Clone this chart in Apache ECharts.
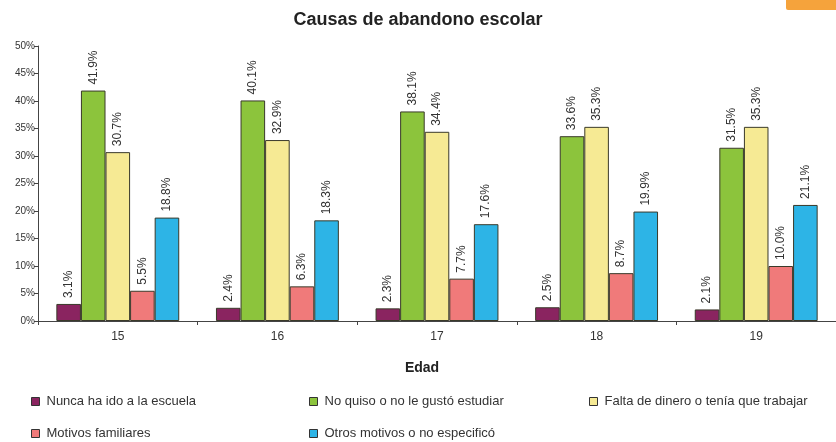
<!DOCTYPE html>
<html><head><meta charset="utf-8">
<script src="https://cdn.jsdelivr.net/npm/echarts@6/dist/echarts.min.js"></script>
<style>html,body{margin:0;padding:0;background:#fff}#c{width:836px;height:442px}</style>
</head><body><div id="c"></div>
<script>
var categories = ['15','16','17','18','19'];
var seriesNames = ['Nunca ha ido a la escuela','No quiso o no le gustó estudiar','Falta de dinero o tenía que trabajar','Motivos familiares','Otros motivos o no especificó'];
var nunca = [3.1, 2.4, 2.3, 2.5, 2.1];
var noQuiso = [41.9, 40.1, 38.1, 33.6, 31.5];
var falta = [30.7, 32.9, 34.4, 35.3, 35.3];
var motivos = [5.5, 6.3, 7.7, 8.7, 10.0];
var otros = [18.8, 18.3, 17.6, 19.9, 21.1];

var colors = ['#8a2460','#8cc43c','#f6ea94','#f07a7a','#2db4e6'];
var values = [nunca, noQuiso, falta, motivos, otros];
var font = 'Liberation Sans, Arial, sans-serif';

var series = values.map(function(v,i){
  return {
    name: seriesNames[i], type:'bar', data:v,
    barGap:'0%', barCategoryGap:'23%',
    itemStyle:{color:colors[i], borderColor:'#3a3a2a', borderWidth:1},
    label:{show:true, position:'top', rotate:90, align:'left', verticalAlign:'middle', distance:6,
      formatter:function(p){return p.value.toFixed(1)+'%';},
      fontSize:12, color:'#333', fontFamily:font}
  };
});

var legendPos = [[26,392],[304,392],[584,392],[26,424],[304,424]];
var legends = seriesNames.map(function(n,i){
  return {orient:'horizontal', left:legendPos[i][0], top:legendPos[i][1], data:[n],
    itemWidth:8, itemHeight:8, icon:'rect', padding:[3,5,3,5],
    itemStyle:{borderColor:'#333', borderWidth:1},
    textStyle:{fontSize:13, color:'#333', fontFamily:font, padding:[0,0,0,2]}};
});

var chart = echarts.init(document.getElementById('c'));
chart.setOption({
  animation:false,
  color:colors,
  title:{text:'Causas de abandono escolar', left:'center', top:6,
    textStyle:{fontSize:18, fontWeight:'bold', color:'#222', fontFamily:font}},
  legend:legends,
  grid:{left:38, top:46, width:805, bottom:121, containLabel:false},
  xAxis:{type:'category', data:categories, name:'Edad', nameLocation:'middle', nameGap:40,
    nameTextStyle:{fontSize:14, fontWeight:'bold', color:'#222', fontFamily:font, padding:[0,0,0,-30]},
    axisLine:{lineStyle:{color:'#444'}}, axisTick:{show:true, length:4, lineStyle:{color:'#444'}},
    axisLabel:{fontSize:12, color:'#333', fontFamily:font, margin:10}},
  yAxis:{type:'value', min:0, max:50, interval:5,
    axisLine:{show:true, lineStyle:{color:'#444'}}, axisTick:{show:true, length:4, lineStyle:{color:'#444'}},
    splitLine:{show:false},
    axisLabel:{formatter:function(v){return v+'%';}, fontSize:10, color:'#333', fontFamily:font, margin:3}},
  graphic:[{type:'rect', shape:{x:786, y:-4, width:60, height:14, r:2}, style:{fill:'#f5a33c'}}],
  series:series
});
</script></body></html>
